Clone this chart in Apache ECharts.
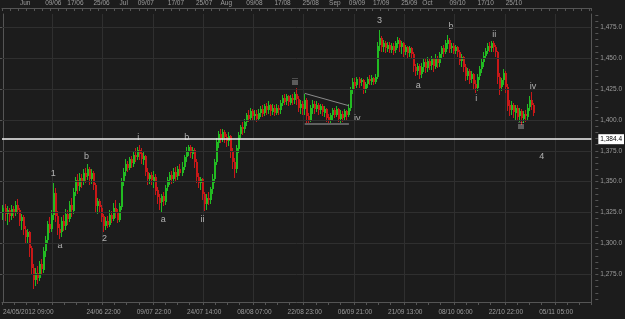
<!DOCTYPE html>
<html><head><meta charset="utf-8">
<script src="https://cdn.jsdelivr.net/npm/echarts@6/dist/echarts.min.js"></script>
<style>html,body{margin:0;padding:0;background:#1c1c1c;}#c{width:625px;height:319px;}</style>
</head><body><div id="c"></div>
<script>
// ---- data (candles) ----
const opens = [1325,1329,1324,1327,1322,1328,1325,1331,1327,1318,
1321,1311,1305,1309,1296,1280,1270,1276,1272,1283,
1279,1294,1303,1316,1312,1323,1341,1322,1312,1309,
1318,1314,1324,1320,1331,1327,1342,1351,1346,1353,
1350,1357,1354,1360,1352,1357,1347,1330,1334,1329,
1322,1314,1318,1315,1323,1320,1329,1325,1319,1330,
1350,1358,1364,1361,1368,1365,1372,1370,1376,1373,
1368,1371,1358,1352,1355,1351,1354,1343,1337,1333,
1338,1334,1345,1351,1355,1352,1358,1354,1360,1357,
1362,1370,1375,1378,1373,1376,1366,1354,1349,1352,
1340,1332,1337,1335,1344,1352,1366,1382,1389,1385,
1390,1386,1383,1387,1374,1366,1360,1377,1388,1394,
1392,1398,1404,1401,1407,1403,1405,1401,1406,1409,
1405,1411,1408,1412,1407,1410,1406,1410,1408,1414,
1418,1415,1419,1414,1418,1416,1421,1417,1410,1413,
1409,1416,1403,1400,1410,1413,1409,1412,1408,1411,
1406,1409,1402,1399,1404,1408,1404,1409,1401,1405,
1402,1407,1404,1410,1425,1431,1428,1433,1430,1432,
1425,1429,1433,1431,1434,1431,1435,1460,1466,1459,
1462,1458,1461,1457,1460,1456,1462,1465,1459,1462,
1455,1459,1454,1458,1453,1443,1440,1444,1437,1443,
1447,1442,1448,1444,1449,1443,1450,1446,1453,1458,
1455,1462,1465,1458,1460,1456,1459,1455,1448,1451,
1443,1436,1440,1433,1437,1429,1426,1435,1441,1447,
1452,1456,1460,1458,1462,1459,1455,1435,1426,1432,
1438,1427,1412,1408,1412,1406,1410,1403,1407,1401,
1405,1403,1410,1416,1412];
const closes = [1329,1324,1327,1322,1328,1325,1331,1327,1318,1321,
1311,1305,1309,1296,1280,1270,1276,1272,1283,1279,
1294,1303,1316,1312,1323,1341,1322,1312,1309,1318,
1314,1324,1320,1331,1327,1342,1351,1346,1353,1350,
1357,1354,1360,1352,1357,1347,1330,1334,1329,1322,
1314,1318,1315,1323,1320,1329,1325,1319,1330,1350,
1358,1364,1361,1368,1365,1372,1370,1376,1373,1368,
1371,1358,1352,1355,1351,1354,1343,1337,1333,1338,
1334,1345,1351,1355,1352,1358,1354,1360,1357,1362,
1370,1375,1378,1373,1376,1366,1354,1349,1352,1340,
1332,1337,1335,1344,1352,1366,1382,1389,1385,1390,
1386,1383,1387,1374,1366,1360,1377,1388,1394,1392,
1398,1404,1401,1407,1403,1405,1401,1406,1409,1405,
1411,1408,1412,1407,1410,1406,1410,1408,1414,1418,
1415,1419,1414,1418,1416,1421,1417,1410,1413,1409,
1416,1403,1400,1410,1413,1409,1412,1408,1411,1406,
1409,1402,1399,1404,1408,1404,1409,1401,1405,1402,
1407,1404,1410,1425,1431,1428,1433,1430,1432,1425,
1429,1433,1431,1434,1431,1435,1460,1466,1459,1462,
1458,1461,1457,1460,1456,1462,1465,1459,1462,1455,
1459,1454,1458,1453,1443,1440,1444,1437,1443,1447,
1442,1448,1444,1449,1443,1450,1446,1453,1458,1455,
1462,1465,1458,1460,1456,1459,1455,1448,1451,1443,
1436,1440,1433,1437,1429,1426,1435,1441,1447,1452,
1456,1460,1458,1462,1459,1455,1435,1426,1432,1438,
1427,1412,1408,1412,1406,1410,1403,1407,1401,1405,
1403,1410,1416,1412,1405.9];
const lows = [1320,1319,1316,1318,1320,1321,1323,1325,1315,1312,
1308,1300,1301,1290,1276,1264,1266,1268,1270,1276,
1277,1290,1300,1309,1310,1320,1318,1308,1304,1306,
1311,1312,1316,1318,1322,1325,1339,1341,1343,1346,
1348,1350,1352,1348,1349,1344,1326,1325,1326,1318,
1310,1312,1313,1314,1317,1319,1321,1317,1318,1328,
1347,1355,1359,1360,1362,1363,1367,1368,1368,1365,
1364,1355,1348,1349,1348,1346,1340,1333,1328,1326,
1331,1332,1343,1348,1349,1350,1351,1352,1355,1355,
1360,1367,1372,1370,1369,1362,1350,1346,1344,1336,
1327,1328,1332,1333,1341,1350,1364,1378,1382,1383,
1382,1379,1380,1370,1361,1354,1358,1374,1386,1389,
1390,1396,1399,1400,1400,1400,1399,1400,1403,1403,
1404,1405,1406,1404,1405,1404,1405,1405,1406,1412,
1413,1413,1412,1413,1413,1414,1413,1407,1406,1405,
1405,1398,1397,1399,1406,1406,1407,1405,1406,1404,
1403,1399,1397,1398,1401,1402,1403,1399,1398,1399,
1400,1401,1403,1408,1422,1426,1427,1427,1428,1422,
1423,1427,1429,1429,1429,1430,1434,1457,1456,1456,
1455,1456,1455,1455,1453,1455,1459,1456,1454,1452,
1453,1451,1452,1451,1440,1436,1437,1434,1435,1440,
1439,1440,1441,1441,1440,1442,1443,1444,1451,1452,
1454,1458,1455,1455,1454,1454,1452,1445,1444,1440,
1432,1433,1430,1431,1425,1423,1424,1433,1439,1444,
1450,1454,1456,1456,1456,1452,1430,1421,1424,1429,
1423,1408,1404,1405,1402,1401,1400,1399,1397,1398,
1399,1401,1408,1409,1404];
const highs = [1331,1332,1330,1329,1331,1330,1334,1336,1329,1324,
1323,1314,1312,1310,1298,1283,1280,1282,1286,1287,
1297,1306,1318,1321,1327,1349,1345,1326,1316,1321,
1323,1328,1327,1334,1337,1345,1354,1356,1357,1356,
1360,1361,1364,1362,1360,1359,1349,1337,1336,1331,
1324,1321,1322,1327,1326,1333,1335,1328,1333,1353,
1361,1368,1367,1370,1371,1375,1377,1378,1380,1377,
1374,1372,1361,1357,1358,1359,1356,1346,1340,1340,
1342,1347,1354,1358,1359,1361,1362,1363,1364,1366,
1372,1378,1380,1380,1378,1377,1368,1357,1354,1353,
1342,1340,1342,1346,1356,1368,1385,1391,1393,1393,
1392,1389,1390,1388,1377,1369,1380,1390,1396,1398,
1401,1406,1408,1410,1409,1408,1408,1409,1411,1412,
1413,1414,1415,1413,1413,1412,1413,1412,1416,1420,
1421,1421,1420,1420,1421,1423,1426,1419,1416,1415,
1421,1418,1406,1412,1416,1415,1415,1414,1413,1413,
1411,1410,1405,1406,1410,1410,1411,1410,1408,1407,
1409,1408,1413,1427,1434,1434,1435,1435,1434,1433,
1431,1435,1436,1436,1435,1437,1463,1473,1468,1465,
1464,1463,1463,1462,1462,1464,1467,1466,1464,1463,
1461,1460,1460,1459,1455,1445,1446,1445,1446,1450,
1449,1451,1450,1452,1450,1453,1452,1455,1460,1461,
1465,1469,1466,1462,1462,1461,1460,1457,1453,1452,
1445,1442,1441,1440,1438,1432,1437,1444,1449,1455,
1458,1462,1463,1464,1464,1461,1456,1438,1434,1441,
1440,1429,1416,1415,1414,1412,1412,1410,1409,1407,
1408,1413,1419,1423,1414];

const totalSlots = 293;                       // bar slots incl. empty right margin
const bottomLabelIdx = [0,50,75,100,125,150,175,200,225,250,275];
const bottomLabelText = ['24/05/2012 09:00','24/06 22:00','09/07 22:00','24/07 14:00','08/08 07:00','22/08 23:00','06/09 21:00','21/09 13:00','08/10 06:00','22/10 22:00','05/11 05:00'];
const topLabelIdx = [11,25,36,49,60,71,86,100,111,125,139,153,165,176,188,202,211,226,240,254];
const topLabelText = ['Jun','09/06','17/06','25/06','Jul','09/07','17/07','25/07','Aug','09/08','17/08','25/08','Sep','09/09','17/09','25/09','Oct','09/10','17/10','25/10'];
const priceTicks = [1275,1300,1325,1350,1375,1400,1425,1450,1475];
const hLinePrice = 1384.4;
const lastPrice = 1405.9;
const waveText  = ['1','a','b','2','i','a','b','ii','iii','iv','3','a','b','i','ii','iii','iv','4'];
const waveIdx   = [25.0,28.3,41.5,50.5,67.3,79.7,91.4,99.2,145.2,176.1,187.2,206.5,222.7,235.3,244.2,257.5,263.5,267.8];
const wavePrice = [1356.5,1298.7,1370.0,1304.2,1385.6,1319.0,1385.9,1319.5,1430.4,1401.3,1480.1,1427.6,1475.7,1417.6,1469.4,1394.3,1426.8,1370.0];
const triUpper = [[150,1421.5],[172,1411.5]];
const triLower = [[150,1397.2],[172,1397.2]];

// ---- chart ----
const yMin = 1252.57, yMax = 1485.77;
const slots = Array.from({length: totalSlots}, (_, i) => String(i));
const bottomMap = {}; bottomLabelIdx.forEach((k, j) => bottomMap[k] = bottomLabelText[j]);
const topMap = {}; topLabelIdx.forEach((k, j) => topMap[k] = topLabelText[j]);
const fmt = v => Number(v).toLocaleString('en-US', {minimumFractionDigits: 1, maximumFractionDigits: 1});
const minorTicks = []; for (let v = 1255; v <= 1485; v += 5) minorTicks.push(v);
const candleData = opens.map((o, i) => [i, o, closes[i], lows[i], highs[i]]);
const FONT = 'Liberation Sans';
const AX = '#555555', TXT = '#9c9c9c', GRIDC = '#2f2f2f';
const UP = '#22bb22', DN = '#c81818';

function renderCandle(params, api) {
  const i = api.value(0), o = api.value(1), c = api.value(2), l = api.value(3), h = api.value(4);
  const pH = api.coord([i, h]), pL = api.coord([i, l]);
  const pT = api.coord([i, Math.max(o, c)]), pB = api.coord([i, Math.min(o, c)]);
  const x = Math.floor(pH[0]) + 0.5;
  const col = c >= o ? UP : DN;
  return {type: 'group', children: [
    {type: 'line', shape: {x1: x, y1: Math.round(pH[1]), x2: x, y2: Math.round(pL[1]) + 1}, style: {stroke: col, lineWidth: 1}},
    {type: 'rect', shape: {x: x - 0.5, y: Math.round(pT[1]), width: 2, height: Math.max(1, Math.round(pB[1] - pT[1]))}, style: {fill: col}}
  ]};
}

const chart = echarts.init(document.getElementById('c'), null, {renderer: 'canvas'});
chart.setOption({
  backgroundColor: '#1c1c1c',
  animation: false,
  grid: {left: 0, right: 32, top: 14, bottom: 17, containLabel: false},
  xAxis: [
    {type: 'category', data: slots, boundaryGap: true, position: 'bottom',
     axisLine: {show: true, lineStyle: {color: AX}},
     axisTick: {show: true, length: 3, interval: (i) => (i % 25) % 6 === 0 && (i % 25) < 24, lineStyle: {color: AX}},
     axisLabel: {interval: (i) => bottomMap[i] !== undefined, formatter: (v, i) => bottomMap[i] || '',
       color: TXT, fontSize: 6.5, fontFamily: FONT, margin: 7, alignMinLabel: 'left', hideOverlap: false},
     splitLine: {show: true, interval: (i) => i > 0 && i % 25 === 0, lineStyle: {color: GRIDC, width: 1}}},
    {type: 'category', data: slots, boundaryGap: true, position: 'top', offset: 6,
     axisLine: {show: true, lineStyle: {color: AX}},
     axisTick: {show: true, inside: true, length: 3, interval: 3, lineStyle: {color: AX}},
     axisLabel: {interval: (i) => topMap[i] !== undefined, formatter: (v, i) => topMap[i] || '',
       color: TXT, fontSize: 6.5, fontFamily: FONT, margin: 1},
     splitLine: {show: false}},
    {type: 'value', min: -0.5, max: totalSlots - 0.5, show: false}
  ],
  yAxis: [
    {type: 'value', min: yMin, max: yMax, position: 'right', offset: 7, scale: true,
     axisLine: {show: true, lineStyle: {color: AX}},
     axisTick: {show: true, inside: true, length: 6, customValues: priceTicks, lineStyle: {color: AX}},
     axisLabel: {show: true, customValues: priceTicks, formatter: fmt, color: TXT, fontSize: 6.5, fontFamily: FONT, margin: 2},
     splitLine: {show: false}},
    {type: 'value', min: yMin, max: yMax, position: 'right', offset: 7, scale: true,
     axisLine: {show: false},
     axisTick: {show: true, inside: true, length: 3, customValues: minorTicks, lineStyle: {color: AX}},
     axisLabel: {show: false}, splitLine: {show: false}},
    {type: 'value', min: yMin, max: yMax, position: 'right', offset: 0, scale: true,
     axisLine: {show: true, lineStyle: {color: AX}},
     axisTick: {show: false}, axisLabel: {show: false}, splitLine: {show: false}}
  ],
  series: [
    {type: 'line', data: [], xAxisIndex: 0, yAxisIndex: 0, z: 0, silent: true,
     markLine: {silent: true, symbol: 'none', animation: false,
       lineStyle: {color: GRIDC, width: 1, type: 'solid'}, label: {show: false},
       data: priceTicks.map(v => ({yAxis: v}))}},
    {type: 'custom', data: candleData, xAxisIndex: 2, yAxisIndex: 0, z: 2, clip: true, silent: true,
     encode: {x: 0, y: [1, 2, 3, 4]}, renderItem: renderCandle},
    {type: 'line', data: [], xAxisIndex: 0, yAxisIndex: 0, z: 3, silent: true,
     markLine: {silent: true, symbol: 'none', animation: false,
       data: [
         {yAxis: hLinePrice, lineStyle: {color: '#f2f2f2', width: 1.5, type: 'solid'},
          label: {show: true, position: 'end', distance: 7, formatter: () => fmt(hLinePrice),
            backgroundColor: '#ffffff', color: '#000000', fontSize: 6.5, fontFamily: FONT, padding: [2, 2, 1, 2]}},
         {yAxis: lastPrice, lineStyle: {opacity: 0},
          label: {show: true, position: 'end', distance: 7, formatter: () => fmt(lastPrice),
            backgroundColor: '#2f8ff2', color: '#ffffff', fontSize: 6.5, fontFamily: FONT, padding: [2, 2, 1, 2]}}
       ]}},
    {type: 'scatter', xAxisIndex: 2, yAxisIndex: 0, z: 4, symbolSize: 0, silent: true,
     data: waveIdx.map((k, j) => [k, wavePrice[j], waveText[j]]),
     label: {show: true, position: 'inside', formatter: p => p.data[2], color: '#d6d6d6', fontSize: 9, fontFamily: FONT},
     markLine: {silent: true, symbol: 'none', animation: false, label: {show: false},
       data: [
         [{coord: triUpper[0], lineStyle: {color: '#8a8a8a', width: 1, type: 'solid'}}, {coord: triUpper[1]}],
         [{coord: triLower[0], lineStyle: {color: '#5f5f5f', width: 2, type: 'solid'}}, {coord: triLower[1]}]
       ]}}
  ]
});
</script></body></html>
